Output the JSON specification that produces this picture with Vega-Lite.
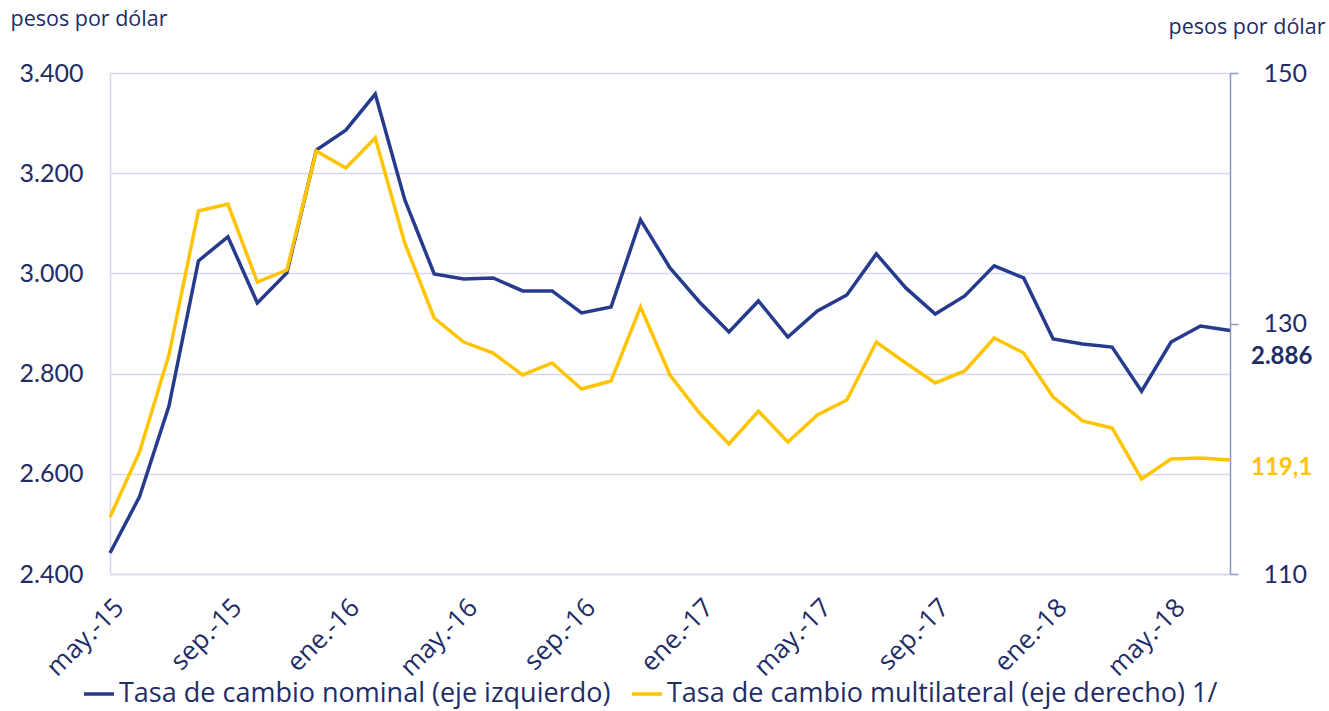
{
  "$schema": "https://vega.github.io/schema/vega-lite/v6.json",
  "autosize": {"type": "none"},
  "padding": {"left": 110, "top": 73, "right": 99, "bottom": 137},
  "width": 1120,
  "height": 501,
  "background": "white",
  "config": {
    "view": {"stroke": null},
    "font": "Lato",
    "locale": {"number": {"decimal": ",", "thousands": ".", "grouping": [3], "currency": ["$", ""]}}
  },
  "data": {
    "values": [
      {"mes": "may.-15", "nominal": 2442, "multilateral": 114.55},
      {"mes": "jun.-15", "nominal": 2554, "multilateral": 119.74},
      {"mes": "jul.-15", "nominal": 2735, "multilateral": 127.49},
      {"mes": "ago.-15", "nominal": 3025, "multilateral": 138.98},
      {"mes": "sep.-15", "nominal": 3073, "multilateral": 139.54},
      {"mes": "oct.-15", "nominal": 2941, "multilateral": 133.31},
      {"mes": "nov.-15", "nominal": 3001, "multilateral": 134.27},
      {"mes": "dic.-15", "nominal": 3246, "multilateral": 143.77},
      {"mes": "ene.-16", "nominal": 3286, "multilateral": 142.41},
      {"mes": "feb.-16", "nominal": 3358, "multilateral": 144.81},
      {"mes": "mar.-16", "nominal": 3147, "multilateral": 136.43},
      {"mes": "abr.-16", "nominal": 2999, "multilateral": 130.44},
      {"mes": "may.-16", "nominal": 2989, "multilateral": 128.52},
      {"mes": "jun.-16", "nominal": 2991, "multilateral": 127.64},
      {"mes": "jul.-16", "nominal": 2965, "multilateral": 125.89},
      {"mes": "ago.-16", "nominal": 2965, "multilateral": 126.85},
      {"mes": "sep.-16", "nominal": 2921, "multilateral": 124.77},
      {"mes": "oct.-16", "nominal": 2933, "multilateral": 125.41},
      {"mes": "nov.-16", "nominal": 3107, "multilateral": 131.32},
      {"mes": "dic.-16", "nominal": 3011, "multilateral": 125.89},
      {"mes": "ene.-17", "nominal": 2943, "multilateral": 122.85},
      {"mes": "feb.-17", "nominal": 2883, "multilateral": 120.38},
      {"mes": "mar.-17", "nominal": 2945, "multilateral": 123.01},
      {"mes": "abr.-17", "nominal": 2873, "multilateral": 120.54},
      {"mes": "may.-17", "nominal": 2925, "multilateral": 122.69},
      {"mes": "jun.-17", "nominal": 2957, "multilateral": 123.89},
      {"mes": "jul.-17", "nominal": 3039, "multilateral": 128.52},
      {"mes": "ago.-17", "nominal": 2971, "multilateral": 126.85},
      {"mes": "sep.-17", "nominal": 2919, "multilateral": 125.25},
      {"mes": "oct.-17", "nominal": 2955, "multilateral": 126.21},
      {"mes": "nov.-17", "nominal": 3015, "multilateral": 128.84},
      {"mes": "dic.-17", "nominal": 2991, "multilateral": 127.64},
      {"mes": "ene.-18", "nominal": 2869, "multilateral": 124.13},
      {"mes": "feb.-18", "nominal": 2859, "multilateral": 122.22},
      {"mes": "mar.-18", "nominal": 2853, "multilateral": 121.66},
      {"mes": "abr.-18", "nominal": 2765, "multilateral": 117.59},
      {"mes": "may.-18", "nominal": 2863, "multilateral": 119.18},
      {"mes": "jun.-18", "nominal": 2895, "multilateral": 119.26},
      {"mes": "jul.-18", "nominal": 2886, "multilateral": 119.1}
    ]
  },
  "encoding": {
    "x": {
      "field": "mes", "type": "ordinal", "sort": null,
      "scale": {"type": "point", "padding": 0},
      "axis": {
        "title": null,
        "values": ["may.-15", "sep.-15", "ene.-16", "may.-16", "sep.-16", "ene.-17", "may.-17", "sep.-17", "ene.-18", "may.-18"],
        "labelAngle": -45, "labelFont": "Open Sans", "labelFontSize": 26, "labelColor": "#1F2C66",
        "labelPadding": 20, "ticks": false, "domainColor": "#D3D8F0", "domainWidth": 1.5,
        "grid": false
      }
    }
  },
  "layer": [
    {
      "encoding": {
        "y": {
          "field": "nominal", "type": "quantitative",
          "scale": {"domain": [2400, 3400], "nice": false, "zero": false},
          "axis": {
            "orient": "left", "values": [2400, 2600, 2800, 3000, 3200, 3400], "format": ",.0f",
            "title": "pesos por dólar", "titleAngle": 0, "titleAlign": "left", "titleBaseline": "middle",
            "titleX": -100, "titleY": -54, "titleFont": "Open Sans", "titleFontSize": 21.5, "titleFontWeight": "normal", "titleColor": "#1F2C66",
            "labelFontSize": 25, "labelColor": "#1F2C66", "labelPadding": 27, "ticks": false,
            "domainColor": "#D3D8F0", "domainWidth": 1.5,
            "grid": true, "gridColor": "#D3D8F0", "gridWidth": 1.5
          }
        }
      },
      "layer": [
        {
          "mark": {"type": "line", "strokeWidth": 3.5, "strokeJoin": "miter"},
          "encoding": {
            "color": {
              "datum": "Tasa de cambio nominal (eje izquierdo)",
              "scale": {"domain": ["Tasa de cambio nominal (eje izquierdo)", "Tasa de cambio multilateral (eje derecho) 1/"], "range": ["#263B8C", "#FFC400"]},
              "legend": {
                "title": null, "orient": "none", "direction": "horizontal", "legendX": -28, "legendY": 604,
                "symbolType": "stroke", "symbolStrokeWidth": 3.5, "symbolSize": 900,
                "labelFont": "Open Sans", "labelFontSize": 27, "labelColor": "#1F2C66", "labelLimit": 0, "columnPadding": 14, "labelOffset": 3
              }
            }
          }
        },
        {
          "transform": [{"filter": "datum.mes == 'jul.-18'"}],
          "mark": {"type": "text", "align": "left", "baseline": "middle", "dx": 21, "dy": 26, "fontSize": 24, "fontWeight": "bold", "color": "#1F2C66"},
          "encoding": {"text": {"field": "nominal", "type": "quantitative", "format": ",.0f"}}
        }
      ]
    },
    {
      "encoding": {
        "y": {
          "field": "multilateral", "type": "quantitative",
          "scale": {"domain": [110, 150], "nice": false, "zero": false},
          "axis": {
            "orient": "right", "values": [110, 130, 150], "format": "d",
            "title": "pesos por dólar", "titleAngle": 0, "titleAlign": "right", "titleBaseline": "middle",
            "titleX": 95, "titleY": -46, "titleFont": "Open Sans", "titleFontSize": 21.5, "titleFontWeight": "normal", "titleColor": "#1F2C66",
            "labelFontSize": 25, "labelColor": "#1F2C66", "labelPadding": 25,
            "ticks": true, "tickSize": 8, "tickColor": "#8E96C4", "tickWidth": 1.5,
            "domainColor": "#8E96C4", "domainWidth": 1.5, "grid": false
          }
        }
      },
      "layer": [
        {
          "mark": {"type": "line", "strokeWidth": 3.5, "strokeJoin": "miter"},
          "encoding": {
            "color": {"datum": "Tasa de cambio multilateral (eje derecho) 1/"}
          }
        },
        {
          "transform": [{"filter": "datum.mes == 'jul.-18'"}],
          "mark": {"type": "text", "align": "left", "baseline": "middle", "dx": 21, "dy": 8, "fontSize": 24, "fontWeight": "bold", "color": "#FFC400"},
          "encoding": {"text": {"field": "multilateral", "type": "quantitative", "format": ".1f"}}
        }
      ]
    }
  ],
  "resolve": {"scale": {"y": "independent"}}
}
